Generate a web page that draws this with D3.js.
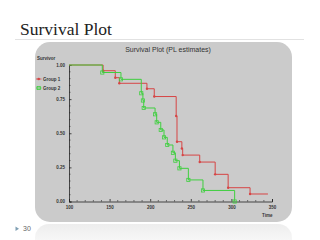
<!DOCTYPE html>
<html>
<head>
<meta charset="utf-8">
<script src="https://cdn.jsdelivr.net/npm/d3@7/dist/d3.min.js"></script>
<style>
  html, body { margin: 0; padding: 0; background: #fff; }
  #chart { width: 320px; height: 240px; }
</style>
</head>
<body>
<div id="chart"></div>
<script>
// Product-limit estimates
const group1Times = [142, 157, 162, 196, 205, 232, 233, 239, 240, 261, 280, 296, 323];
const group1Surv = [0.958, 0.907, 0.866, 0.826, 0.769, 0.626, 0.438, 0.388, 0.340, 0.289, 0.199, 0.101, 0.055];
const group1End = 345;
const group2Times = [141, 164, 189, 191, 192, 206, 208, 213, 217, 221, 228, 231, 236, 247, 265, 304];
const group2Surv = [0.945, 0.895, 0.793, 0.740, 0.685, 0.639, 0.580, 0.524, 0.470, 0.414, 0.357, 0.299, 0.243, 0.158, 0.081, 0];
const group2End = 304;
const xTicks = [100, 150, 200, 250, 300, 350];
const yTicks = [0, 0.25, 0.5, 0.75, 1];
const groupNames = ['Group 1', 'Group 2'];

(function () {
  const W = 320, H = 240;
  const red = '#d64545', green = '#3fcf3f';

  const svg = d3.select('#chart').append('svg')
    .attr('width', W)
    .attr('height', H)
    .style('font-family', '"Liberation Sans", Arial, sans-serif');

  const defs = svg.append('defs');
  const refl = defs.append('linearGradient')
    .attr('id', 'refl').attr('x1', 0).attr('y1', 0).attr('x2', 0).attr('y2', 1);
  refl.append('stop').attr('offset', '0%').attr('stop-color', '#cccccc').attr('stop-opacity', 0.35);
  refl.append('stop').attr('offset', '100%').attr('stop-color', '#cccccc').attr('stop-opacity', 0);

  // slide header
  svg.append('text')
    .attr('x', 20)
    .attr('y', 35)
    .attr('font-family', '"Liberation Serif", "Times New Roman", serif')
    .attr('font-size', '17.5px')
    .attr('fill', '#222')
    .text('Survival Plot');

  svg.append('line')
    .attr('x1', 15).attr('x2', 304)
    .attr('y1', 39.5).attr('y2', 39.5)
    .attr('stroke', '#e2e2e2')
    .attr('stroke-width', 1);

  // reflection under the panel
  svg.append('rect')
    .attr('x', 35).attr('y', 224)
    .attr('width', 257).attr('height', 30)
    .attr('rx', 14)
    .attr('fill', 'url(#refl)');

  // grey chart panel
  svg.append('rect')
    .attr('x', 35).attr('y', 42)
    .attr('width', 257).attr('height', 180)
    .attr('rx', 15)
    .attr('fill', '#cbcbcb');

  // slide number
  svg.append('path')
    .attr('d', 'M15.5,226.5 L19,228.8 L15.5,231 Z')
    .attr('fill', '#7f9fb3');
  svg.append('text')
    .attr('x', 23).attr('y', 231)
    .attr('font-size', '7px')
    .attr('fill', '#666')
    .text('30');

  const x = d3.scaleLinear().domain([100, 350]).range([69, 272]);
  const y = d3.scaleLinear().domain([0, 1]).range([201.5, 65]);

  svg.append('text')
    .attr('x', 168).attr('y', 52)
    .attr('text-anchor', 'middle')
    .attr('font-size', '7px')
    .attr('fill', '#333')
    .text('Survival Plot (PL estimates)');

  svg.append('text')
    .attr('x', 37).attr('y', 60)
    .attr('font-size', '4.5px')
    .attr('font-weight', 'bold')
    .attr('fill', '#333')
    .text('Survivor');

  svg.append('text')
    .attr('x', 262).attr('y', 217)
    .attr('font-size', '4.5px')
    .attr('font-weight', 'bold')
    .attr('fill', '#333')
    .text('Time');

  // axes, ticks pointing inward
  const xAxis = svg.append('g')
    .attr('transform', `translate(0,${y(0)})`)
    .call(d3.axisBottom(x).tickValues(xTicks).tickSize(-2.5).tickPadding(4).tickFormat(d3.format('d')));
  xAxis.append('g').selectAll('line')
    .data(d3.range(110, 350, 10).filter(v => v % 50 !== 0))
    .join('line')
    .attr('x1', d => x(d)).attr('x2', d => x(d))
    .attr('y1', 0).attr('y2', -1.5)
    .attr('stroke', '#222').attr('stroke-width', 0.6);

  const yAxis = svg.append('g')
    .attr('transform', `translate(${x(100)},0)`)
    .call(d3.axisLeft(y).tickValues(yTicks).tickSize(-2.5).tickPadding(4).tickFormat(d3.format('.2f')));
  yAxis.append('g').selectAll('line')
    .data(d3.range(0.05, 1, 0.05).filter(v => Math.abs(v * 4 - Math.round(v * 4)) > 1e-6))
    .join('line')
    .attr('x1', 0).attr('x2', 1.5)
    .attr('y1', d => y(d)).attr('y2', d => y(d))
    .attr('stroke', '#222').attr('stroke-width', 0.6);

  [xAxis, yAxis].forEach(a => {
    a.select('.domain').attr('stroke', '#222').attr('stroke-width', 0.8);
    a.selectAll('.tick line').attr('stroke', '#222').attr('stroke-width', 0.8);
    a.selectAll('.tick text')
      .attr('fill', '#333')
      .style('font-size', '4.5px')
      .style('font-weight', 'bold')
      .style('font-family', '"Liberation Sans", Arial, sans-serif');
  });

  function curve(times, surv, end) {
    const pts = [[100, 1]];
    times.forEach((t, i) => pts.push([t, surv[i]]));
    if (end > times[times.length - 1]) pts.push([end, surv[surv.length - 1]]);
    return pts;
  }

  const line = d3.line()
    .x(d => x(d[0]))
    .y(d => y(d[1]))
    .curve(d3.curveStepAfter);

  // Group 1 (red)
  svg.append('path')
    .datum(curve(group1Times, group1Surv, group1End))
    .attr('d', line)
    .attr('fill', 'none')
    .attr('stroke', red)
    .attr('stroke-width', 1);
  svg.append('g').selectAll('circle')
    .data(group1Times.map((t, i) => [t, group1Surv[i]]))
    .join('circle')
    .attr('cx', d => x(d[0]))
    .attr('cy', d => y(d[1]))
    .attr('r', 1.2)
    .attr('fill', red);

  // Group 2 (green), drawn on top
  svg.append('path')
    .datum(curve(group2Times, group2Surv, group2End))
    .attr('d', line)
    .attr('fill', 'none')
    .attr('stroke', green)
    .attr('stroke-width', 1);
  svg.append('g').selectAll('rect')
    .data(group2Times.map((t, i) => [t, group2Surv[i]]))
    .join('rect')
    .attr('x', d => x(d[0]) - 1.6)
    .attr('y', d => y(d[1]) - 1.6)
    .attr('width', 3.2).attr('height', 3.2)
    .attr('fill', 'none')
    .attr('stroke', green)
    .attr('stroke-width', 0.8);

  // legend
  const legend = svg.append('g');
  groupNames.forEach((name, i) => {
    const ly = 79 + i * 9;
    const col = i === 0 ? red : green;
    legend.append('line')
      .attr('x1', 36).attr('x2', 41.5)
      .attr('y1', ly).attr('y2', ly)
      .attr('stroke', col).attr('stroke-width', 0.8);
    if (i === 0) {
      legend.append('circle').attr('cx', 38.7).attr('cy', ly).attr('r', 1.3).attr('fill', col);
    } else {
      legend.append('rect').attr('x', 37.1).attr('y', ly - 1.6)
        .attr('width', 3.2).attr('height', 3.2)
        .attr('fill', 'none').attr('stroke', col).attr('stroke-width', 0.8);
    }
    legend.append('text')
      .attr('x', 43).attr('y', ly + 1.6)
      .attr('font-size', '4.5px')
      .attr('font-weight', 'bold')
      .attr('fill', '#333')
      .text(name);
  });
})();
</script>
</body>
</html>
